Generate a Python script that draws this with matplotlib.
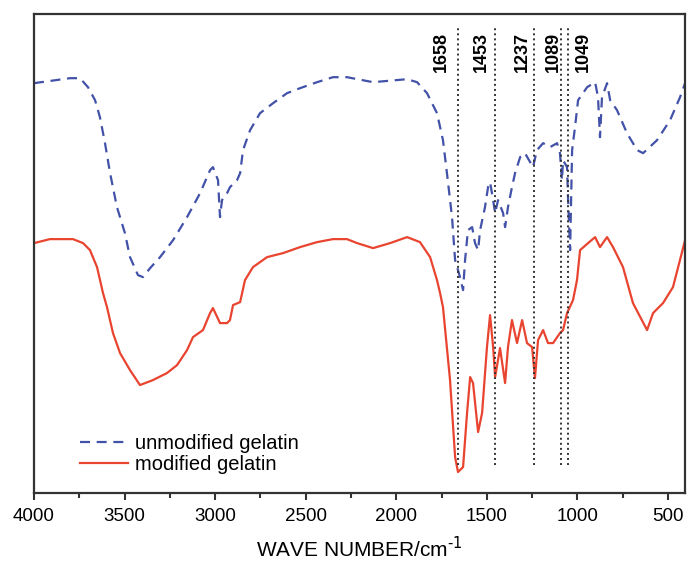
import matplotlib.pyplot as plt
import numpy as np

plt.rcParams['font.family'] = ['Liberation Sans', 'DejaVu Sans']

# unmodified gelatin (dashed blue), wavenumber / transmittance (a.u.)
wn_unmod = [4000, 3801, 3746, 3702, 3663, 3636, 3608, 3580, 3542, 3498, 3470, 3426, 3398,
            3359, 3304, 3232, 3155, 3083, 3028, 3012, 2984, 2973, 2962, 2934, 2918, 2879,
            2862, 2846, 2807, 2752, 2680, 2603, 2531, 2437, 2349, 2272, 2128, 1940, 1885,
            1830, 1775, 1742, 1720, 1692, 1675, 1648, 1631, 1620, 1604, 1581, 1565, 1548,
            1537, 1510, 1493, 1482, 1465, 1454, 1438, 1410, 1399, 1383, 1361, 1344, 1316,
            1289, 1245, 1223, 1189, 1151, 1112, 1096, 1085, 1079, 1057, 1051, 1040, 1029,
            1013, 996, 946, 902, 886, 875, 864, 836, 819, 781, 726, 670, 637, 560, 488,
            433, 405]
t_unmod = [410, 415, 415, 406, 393, 376, 350, 320, 286, 260, 236, 218, 216,
           225, 236, 253, 276, 300, 323, 326, 313, 276, 293, 300, 306, 313,
           320, 343, 363, 380, 390, 400, 405, 411, 416, 416, 411, 414, 411,
           400, 380, 353, 320, 276, 233, 216, 203, 233, 263, 266, 250, 243,
           263, 286, 306, 311, 293, 280, 293, 280, 266, 286, 306, 320, 336,
           340, 326, 343, 350, 346, 350, 340, 313, 333, 326, 293, 243, 343,
           366, 393, 406, 411, 396, 356, 396, 410, 393, 383, 360, 343, 340, 353, 373,
           396, 410]

# modified gelatin (solid red)
wn_mod = [4000, 3912, 3785, 3729, 3691, 3652, 3619, 3597, 3564, 3525, 3470, 3415, 3343,
          3266, 3210, 3155, 3122, 3067, 3028, 3012, 2973, 2934, 2918, 2901, 2862, 2835,
          2791, 2713, 2625, 2531, 2437, 2349, 2272, 2216, 2128, 2034, 1940, 1869, 1813,
          1775, 1758, 1742, 1703, 1675, 1659, 1631, 1609, 1592, 1576, 1548, 1526, 1499,
          1482, 1465, 1454, 1427, 1399, 1383, 1361, 1333, 1305, 1278, 1250, 1234, 1217,
          1189, 1162, 1134, 1096, 1079, 1057, 1024, 1002, 985, 941, 902, 875, 836, 803,
          748, 693, 615, 582, 527, 472, 405]
t_mod = [250, 254, 254, 250, 243, 226, 200, 186, 160, 140, 123, 108, 113,
         120, 128, 143, 156, 163, 180, 185, 170, 170, 173, 188, 191, 213,
         226, 236, 240, 246, 251, 254, 254, 250, 245, 250, 256, 251, 236,
         213, 200, 186, 113, 36, 21, 26, 80, 116, 110, 61, 80, 146,
         178, 146, 116, 145, 110, 146, 173, 150, 173, 150, 146, 115, 153,
         163, 150, 150, 160, 163, 180, 193, 213, 243, 250, 256, 246, 256, 246,
         226, 190, 163, 180, 190, 206, 253]

peaks = [1658, 1453, 1237, 1089, 1049]
peak_dx = [-12, -10, -9, -6, 11]   # label offset from line, points

fig = plt.figure(figsize=(6.87, 5.68), dpi=100)
ax = fig.add_axes([0.0495, 0.132, 0.9475, 0.843])

ax.plot(wn_unmod, t_unmod, color='#4252A8', lw=1.6, ls=(0, (4.5, 3)), label='unmodified gelatin')
ax.plot(wn_mod, t_mod, color='#E8442F', lw=1.6, label='modified gelatin')

ax.vlines(peaks, 28, 466, colors='#333333', linestyles=(0, (1, 1.6)), lw=1.4)
for p, dx in zip(peaks, peak_dx):
    ax.annotate(str(p), xy=(p, 461), xytext=(dx, 0), textcoords='offset points',
                rotation=90, ha='center', va='top', fontsize=13, fontweight='bold')

ax.set_xlim(4000, 406)
ax.set_ylim(0, 479)
ax.set_xticks(np.arange(4000, 400, -500))
ax.set_xticks(np.arange(3750, 400, -500), minor=True)
ax.set_yticks([])
ax.tick_params(axis='x', which='major', direction='out', length=5, width=1.5,
               labelsize=13.5, pad=6, color='#333333')
ax.tick_params(axis='x', which='minor', direction='out', length=3.5, width=1.5, color='#333333')
for s in ax.spines.values():
    s.set_linewidth(1.6)
    s.set_color('#333333')

ax.set_xlabel('WAVE NUMBER/cm$^{\\text{-}1}$', fontsize=15, labelpad=8)

ax.legend(loc='lower left', bbox_to_anchor=(0.07, 0.04), frameon=False,
          fontsize=14.5, handlelength=2.4, handletextpad=0.35, labelspacing=0.1,
          borderpad=0, borderaxespad=0)

fig.savefig('out.png', dpi=100)
